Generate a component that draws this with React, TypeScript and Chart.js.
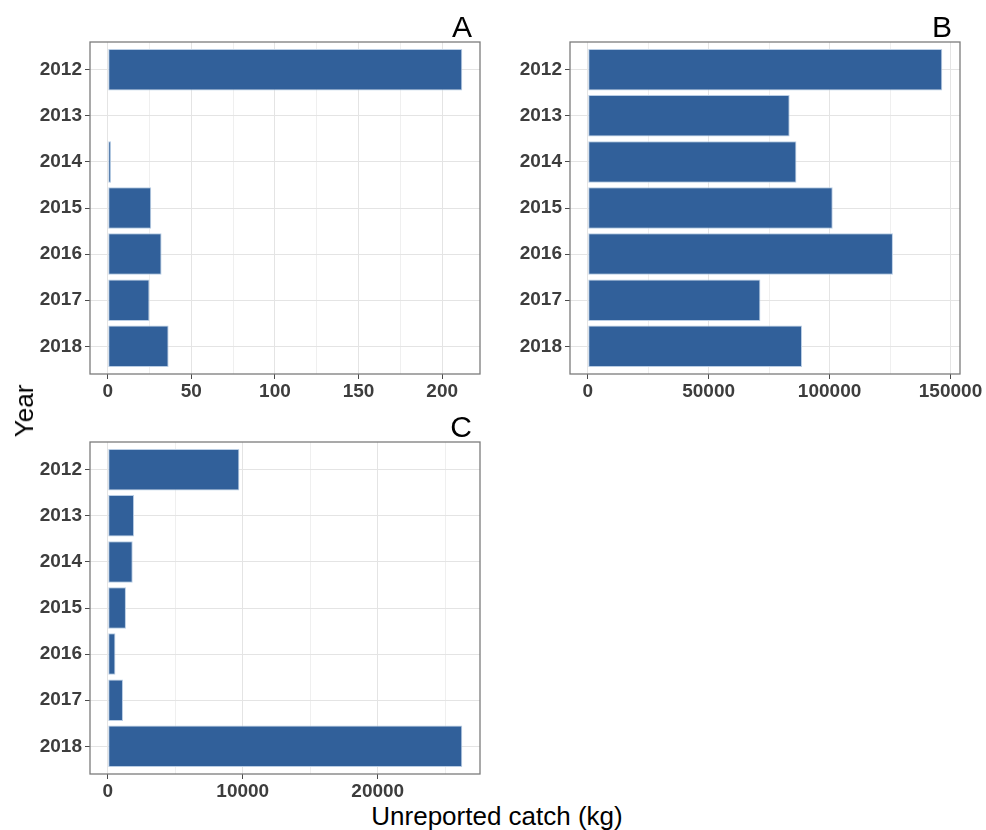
import React, { useEffect, useRef } from "react";
import { Chart, registerables } from "chart.js";

Chart.register(...registerables);

// Years shown on every panel (top to bottom)
const years = ["2012", "2013", "2014", "2015", "2016", "2017", "2018"];

// Unreported catch (kg) per year, one array per panel
const catchA: (number | null)[] = [212, null, 2, 26, 32.2, 25, 36.4];
const catchB: (number | null)[] = [146600, 83500, 86300, 101300, 126200, 71400, 88600];
const catchC: (number | null)[] = [9750, 1950, 1850, 1350, 570, 1130, 26260];

// Labelled (major) and unlabelled (minor) x-axis gridline values
const majorA = [0, 50, 100, 150, 200];
const minorA = [25, 75, 125, 175];
const majorB = [0, 50000, 100000, 150000];
const minorB = [25000, 75000, 125000];
const majorC = [0, 10000, 20000];
const minorC = [5000, 15000, 25000];

const FONT = '"Liberation Sans", Arial, Helvetica, sans-serif';
const BAR_FILL = "#31609a";
const BAR_EDGE = "#b9cde4";
const GRID_MAJOR = "#e4e4e4";
const GRID_MINOR = "#efefef";
const TICK_TEXT = "#3d3d3d";
const TICK_MARK = "#4a4a4a";

const panelDecor = {
  id: "panelDecor",
  afterDraw(chart: any, _args: any, opts: any) {
    const { ctx, chartArea: a } = chart;
    ctx.save();
    ctx.strokeStyle = "#7c7c7c";
    ctx.lineWidth = 1.3;
    ctx.strokeRect(a.left, a.top, a.right - a.left, a.bottom - a.top);
    ctx.fillStyle = "#000";
    ctx.font = `30px ${FONT}`;
    ctx.textAlign = "right";
    ctx.textBaseline = "alphabetic";
    ctx.fillText(opts.letter, a.right - 8, a.top - 5);
    ctx.restore();
  },
};

type PanelProps = {
  letter: string;
  values: (number | null)[];
  major: number[];
  minor: number[];
  left: number;
  top: number;
  width: number;
  height: number;
  axisWidth: number;
  padRight: number;
};

function Panel(p: PanelProps) {
  const ref = useRef<HTMLCanvasElement | null>(null);

  useEffect(() => {
    if (!ref.current) return;
    const maxVal = Math.max(...(p.values.filter((v) => v !== null) as number[]));
    const pad = maxVal * 0.05;
    const points = p.values
      .map((v, i) => ({ x: v, y: i }))
      .filter((d) => d.x !== null);

    const chart = new Chart(ref.current, {
      type: "bar",
      data: {
        datasets: [
          {
            data: points as any,
            backgroundColor: BAR_FILL,
            borderColor: BAR_EDGE,
            borderWidth: 1,
            borderSkipped: false,
            categoryPercentage: 1,
            barPercentage: 0.9,
          },
        ],
      },
      options: {
        indexAxis: "y",
        animation: false,
        responsive: false,
        layout: { padding: { left: 0, top: 42, right: p.padRight, bottom: 0 } },
        plugins: {
          legend: { display: false },
          tooltip: { enabled: false },
          panelDecor: { letter: p.letter },
        } as any,
        scales: {
          x: {
            type: "linear",
            min: -pad,
            max: maxVal + pad,
            offset: false,
            afterBuildTicks: (scale: any) => {
              scale.ticks = [...p.major, ...p.minor]
                .sort((a, b) => a - b)
                .map((v) => ({ value: v }));
            },
            afterFit: (scale: any) => {
              scale.height = 26;
            },
            border: { display: false },
            grid: {
              offset: false,
              color: (c: any) => (p.minor.includes(c.tick?.value) ? GRID_MINOR : GRID_MAJOR),
              tickColor: (c: any) =>
                p.minor.includes(c.tick?.value) ? "rgba(0,0,0,0)" : TICK_MARK,
              lineWidth: 1,
              tickLength: 5,
            },
            ticks: {
              autoSkip: false,
              maxRotation: 0,
              padding: 1,
              color: TICK_TEXT,
              font: { family: FONT, size: 19, weight: "bold" },
              callback: (v: any) => (p.major.includes(Number(v)) ? String(v) : ""),
            },
          },
          y: {
            type: "linear",
            reverse: true,
            min: -0.6,
            max: years.length - 1 + 0.6,
            offset: false,
            afterBuildTicks: (scale: any) => {
              scale.ticks = years.map((_, i) => ({ value: i }));
            },
            afterFit: (scale: any) => {
              scale.width = p.axisWidth;
            },
            border: { display: false },
            grid: {
              offset: false,
              color: GRID_MAJOR,
              tickColor: TICK_MARK,
              lineWidth: 1,
              tickLength: 5,
            },
            ticks: {
              autoSkip: false,
              padding: 3,
              color: TICK_TEXT,
              font: { family: FONT, size: 19, weight: "bold" },
              callback: (v: any) => years[Number(v)] ?? "",
            },
          },
        },
      },
      plugins: [panelDecor],
    });
    return () => chart.destroy();
  }, []);

  return (
    <div
      style={{
        position: "absolute",
        left: p.left,
        top: p.top,
        width: p.width,
        height: p.height,
      }}
    >
      <canvas ref={ref} width={p.width} height={p.height} style={{ display: "block" }} />
    </div>
  );
}

export default function App() {
  return (
    <div
      style={{
        position: "absolute",
        left: 0,
        top: 0,
        width: 986,
        height: 830,
        background: "#fff",
        overflow: "hidden",
        fontFamily: FONT,
      }}
    >
      <Panel
        letter="A"
        values={catchA}
        major={majorA}
        minor={minorA}
        left={0}
        top={0}
        width={490}
        height={400}
        axisWidth={90}
        padRight={10}
      />
      <Panel
        letter="B"
        values={catchB}
        major={majorB}
        minor={minorB}
        left={490}
        top={0}
        width={496}
        height={400}
        axisWidth={80}
        padRight={26}
      />
      <Panel
        letter="C"
        values={catchC}
        major={majorC}
        minor={minorC}
        left={0}
        top={400}
        width={490}
        height={400}
        axisWidth={90}
        padRight={10}
      />
      <div
        style={{
          position: "absolute",
          left: 24,
          top: 411,
          transform: "translate(-50%, -50%) rotate(-90deg)",
          fontSize: 26,
          lineHeight: 1,
          whiteSpace: "nowrap",
          color: "#000",
        }}
      >
        Year
      </div>
      <div
        style={{
          position: "absolute",
          left: 497,
          top: 803,
          transform: "translateX(-50%)",
          fontSize: 26,
          lineHeight: 1,
          whiteSpace: "nowrap",
          color: "#000",
        }}
      >
        Unreported catch (kg)
      </div>
    </div>
  );
}
